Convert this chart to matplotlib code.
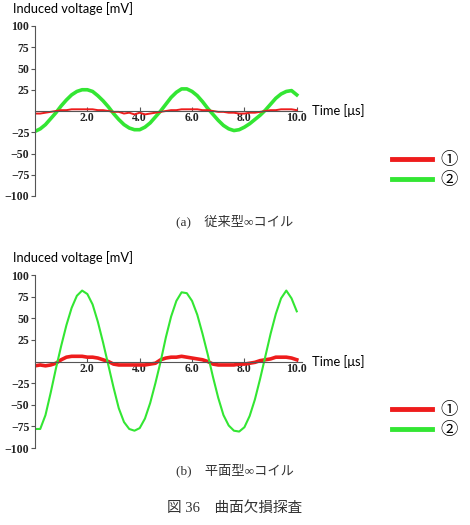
import numpy as np
import matplotlib.pyplot as plt
from matplotlib.lines import Line2D

# time axis in microseconds (0.2 us steps)
time_us = [round(0.2 * i, 1) for i in range(51)]

# (a) conventional coil
green_a = [-24, -21, -16, -9, -2, 6, 13, 19, 23, 25,
           25, 23, 18, 12, 5, -3, -10, -16, -20, -22,
           -22, -19, -14, -7, 0, 8, 16, 22, 26, 26,
           23, 18, 11, 3, -4, -11, -17, -21, -23, -22,
           -19, -15, -10, -5, 1, 8, 15, 20, 23, 24,
           19]
red_a = [-3, -3, -2, -1, 0, 1, 1, 2, 2, 2,
         2, 2, 1, 1, 0, -1, -1, -3, -2, -4,
         -2, -4, -3, -2, -1, 0, 1, 1, 2, 2,
         2, 2, 1, 1, 0, -1, -1, -2, -2, -3,
         -3, -2, -2, -1, 0, 1, 1, 2, 2, 2,
         1]

# (b) planar coil
green_b = [-78, -78, -62, -36, -8, 18, 42, 62, 76, 82,
           78, 66, 46, 22, -4, -30, -54, -70, -78, -80,
           -77, -66, -48, -25, 0, 28, 52, 70, 80, 79,
           70, 54, 32, 8, -18, -42, -62, -74, -80, -81,
           -76, -63, -44, -20, 6, 32, 55, 73, 82, 73,
           58]
red_b = [-5, -4, -5, -4, -2, 2, 5, 6, 6, 6,
         5, 5, 4, 2, 0, -3, -4, -4, -4, -4,
         -4, -4, -3, -2, 2, 4, 5, 5, 6, 5,
         4, 3, 2, 0, -3, -4, -4, -4, -4, -3,
         -3, -2, -1, 1, 2, 3, 5, 5, 5, 4,
         2]

y_ticks = [-100, -75, -50, -25, 25, 50, 75, 100]
x_ticks = [2, 4, 6, 8, 10]
x_labels = ['2.0', '4.0', '6.0', '8.0', '10.0']
legend_labels = ['\u2460', '\u2461']

RED = '#ee1c1c'
GREEN = '#33e633'
W, H = 470, 525

fig = plt.figure(figsize=(4.7, 5.25), dpi=100)


def px_box(left, top, right, bottom):
    return [left / W, 1 - bottom / H, (right - left) / W, (bottom - top) / H]


def make_panel(box, green, red, red_width, green_width, red_on_top):
    ax = fig.add_axes(box)
    zg, zr = (2, 3) if red_on_top else (3, 2)
    ax.plot(time_us, green, color=GREEN, lw=green_width, zorder=zg)
    ax.plot(time_us, red, color=RED, lw=red_width, zorder=zr)
    ax.set_xlim(0, 10.2)
    ax.set_ylim(-100, 100)
    for s in ['top', 'right']:
        ax.spines[s].set_visible(False)
    ax.spines['bottom'].set_position(('data', 0))
    for s in ['left', 'bottom']:
        ax.spines[s].set_color('#555555')
        ax.spines[s].set_linewidth(0.8)
        ax.spines[s].set_zorder(4)
    ax.set_yticks(y_ticks)
    ax.set_yticklabels([str(v).replace('-', '\u2212') for v in y_ticks])
    ax.set_xticks(x_ticks)
    ax.set_xticklabels(x_labels)
    ax.tick_params(axis='y', direction='out', length=3, width=0.8, pad=1,
                   color='#555555')
    ax.tick_params(axis='x', direction='in', length=3, width=0.8, pad=1,
                   color='#555555')
    for lab in ax.get_xticklabels() + ax.get_yticklabels():
        lab.set_family('Liberation Serif')
        lab.set_fontweight('bold')
        lab.set_fontsize(8.5)
        lab.set_color('#222222')
    ax.text(10.6, 0, 'Time [\u03bcs]', family='Lato', fontsize=9.3,
            va='center', ha='left', clip_on=False)
    return ax


make_panel(px_box(35, 26, 302, 196), green_a, red_a, 1.4, 2.6, True)
make_panel(px_box(35, 275, 302, 448), green_b, red_b, 2.6, 1.5, False)

fig.text(13 / W, 1 - 9 / H, 'Induced voltage [mV]', family='Lato',
         fontsize=9.3, va='center', ha='left')
fig.text(13 / W, 1 - 258 / H, 'Induced voltage [mV]', family='Lato',
         fontsize=9.3, va='center', ha='left')

handles = [Line2D([], [], color=RED, lw=3.5), Line2D([], [], color=GREEN, lw=3.5)]
for y_mid in [170, 420]:
    fig.legend(handles, legend_labels, loc='center left',
               bbox_to_anchor=(392 / W, 1 - y_mid / H), frameon=False,
               borderaxespad=0, borderpad=0,
               handlelength=2.3, handletextpad=0.5, labelspacing=0.15,
               prop={'family': ['Noto Sans CJK JP', 'DejaVu Sans'], 'size': 12.5})

cap_font = ['Liberation Serif', 'Noto Sans CJK JP']
fig.text(0.5, 1 - 221 / H, '(a)\u3000従来型\u221eコイル', family=cap_font,
         fontsize=9.5, ha='center', va='center', color='#333333')
fig.text(0.5, 1 - 470 / H, '(b)\u3000平面型\u221eコイル', family=cap_font,
         fontsize=9.5, ha='center', va='center', color='#333333')
fig.text(0.5, 1 - 508 / H, '図 36\u3000曲面欠損探査', family=cap_font,
         fontsize=10.5, ha='center', va='center', color='#333333')

fig.savefig('out.png', dpi=100)
